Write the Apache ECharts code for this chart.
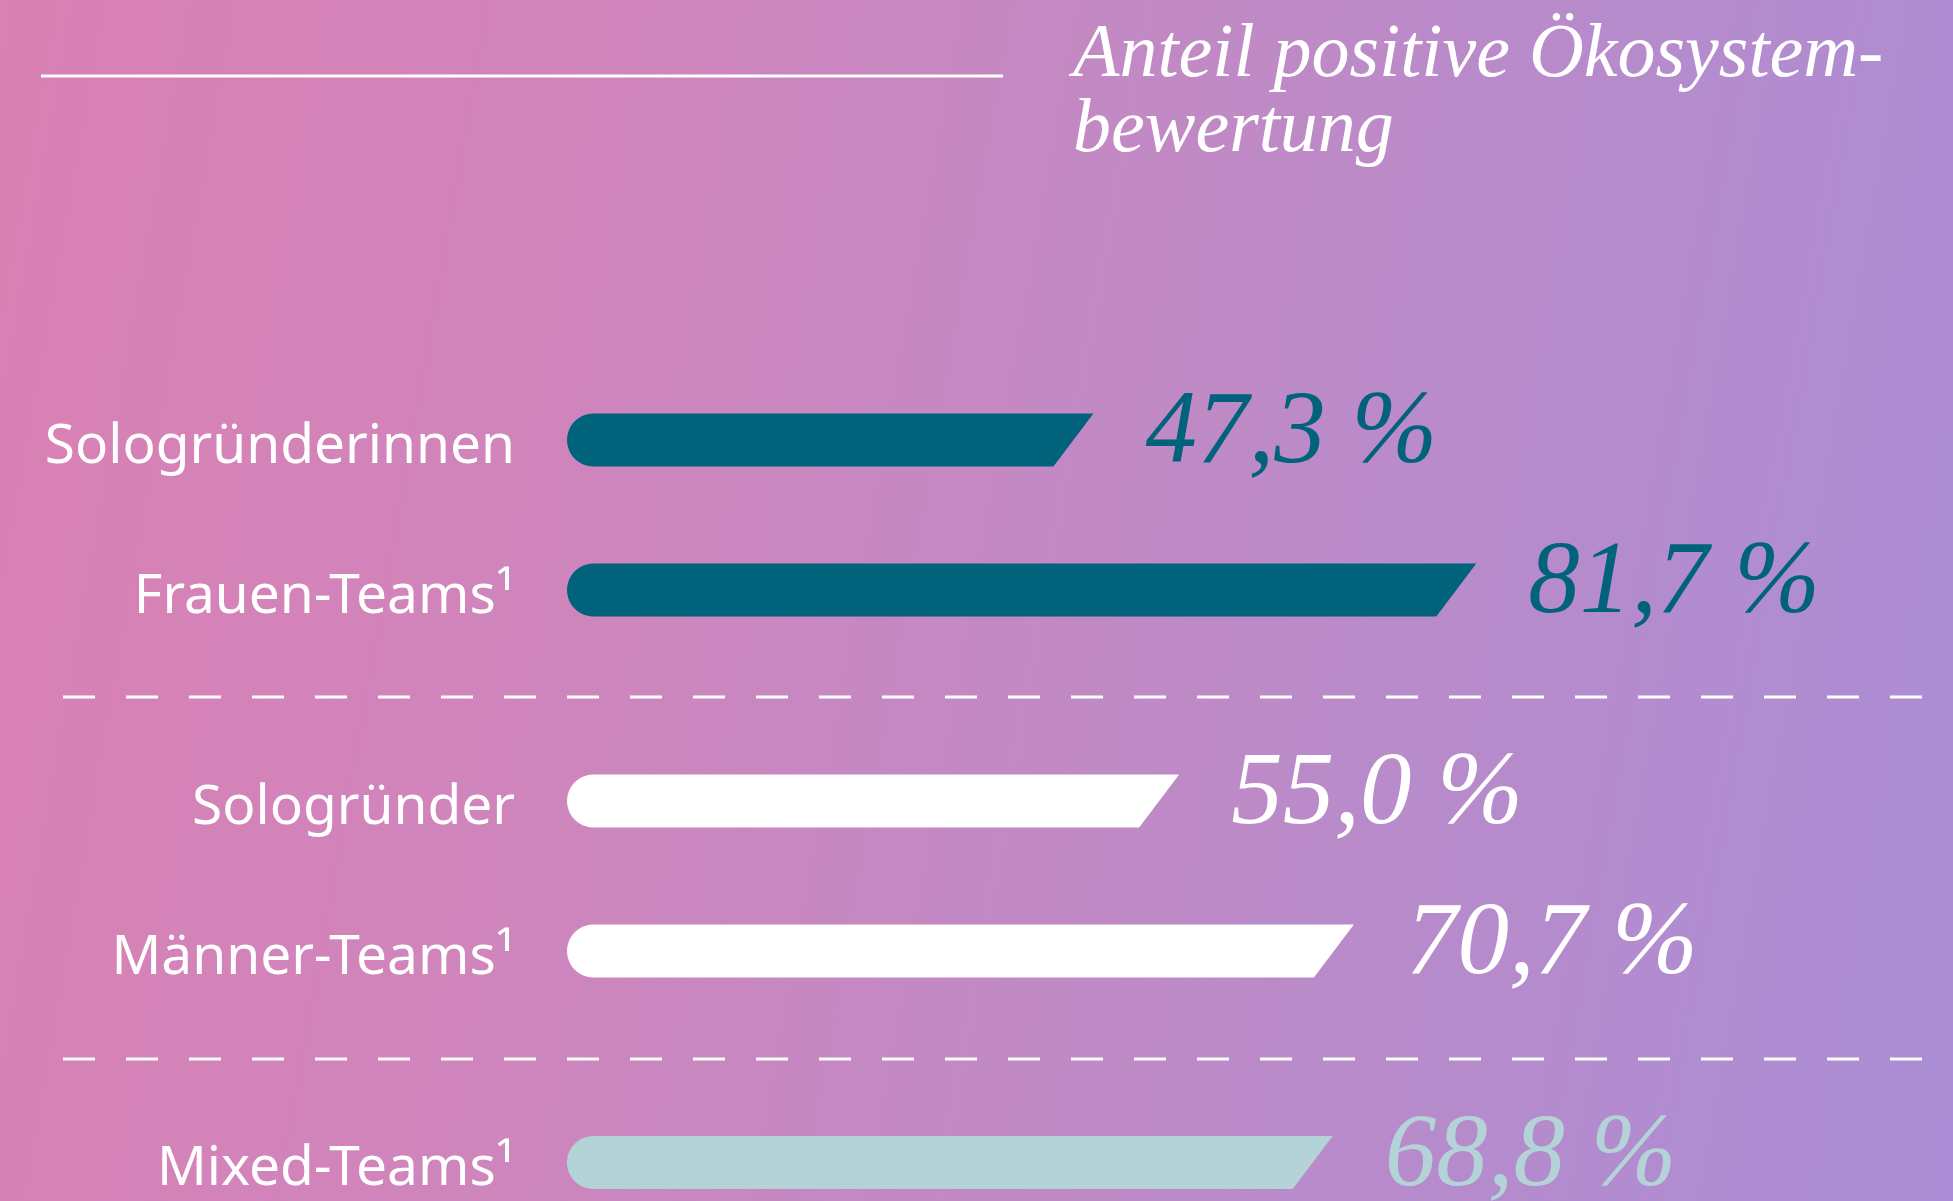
<!DOCTYPE html>
<html>
<head>
<meta charset="utf-8">
<script src="https://cdn.jsdelivr.net/npm/echarts@6/dist/echarts.min.js"></script>
<style>
  html, body { margin: 0; padding: 0; }
  body {
    width: 1953px; height: 1201px; overflow: hidden;
    background: linear-gradient(100deg, #da80b3 0%, #cf85bc 30%, #be8ac6 60%, #aa8dd5 100%);
  }
  #chart { width: 1953px; height: 1201px; }
</style>
</head>
<body>
<div id="chart"></div>
<script>
// Daten
var catWomen = ['Sologründerinnen', 'Frauen-Teams¹'];
var valWomen = [47.3, 81.7];
var catMen = ['Sologründer', 'Männer-Teams¹'];
var valMen = [55.0, 70.7];
var catMixed = ['Mixed-Teams¹'];
var valMixed = [68.8];

var colWomen = '#00637b';
var colMen = '#ffffff';
var colMixed = '#b3d3d7';

var barH = 53, slant = 40, labelGap = 52;

function fmt(v){
    return v.toFixed(1).replace('.', ',') + ' %';
}

function makeRender(color){
    return function(params, api){
        var cat = api.value(1);
        var start = api.coord([0, cat]);
        var end = api.coord([api.value(0), cat]);
        var cy = start[1];
        var r = barH / 2;
        var top = cy - r, bot = cy + r;
        var pts = [[end[0], top], [end[0] - slant, bot], [start[0] + r, bot]];
        // runde Kappe links
        for (var i = 1; i < 24; i++) {
            var a = Math.PI / 2 + Math.PI * i / 24;
            pts.push([start[0] + r + r * Math.cos(a), cy + r * Math.sin(a)]);
        }
        pts.push([start[0] + r, top]);
        return {
            type: 'group',
            children: [
                { type: 'polygon', shape: { points: pts }, style: { fill: color } },
                {
                    type: 'text', x: end[0] + labelGap, y: cy - 5,
                    style: {
                        text: fmt(api.value(0)), fill: color,
                        font: 'italic 103px "Liberation Serif"',
                        align: 'left', verticalAlign: 'middle'
                    }
                }
            ]
        };
    };
}

function toData(vals){
    return vals.map(function(v, i){ return [v, i]; });
}

var myChart = echarts.init(document.getElementById('chart'), null, { renderer: 'canvas' });

var grids = [
    { left: 567, right: 273, top: 365, height: 300 },
    { left: 567, right: 273, top: 726, height: 300 },
    { left: 567, right: 273, top: 1124, height: 77 }
];
var cats = [catWomen, catMen, catMixed];

option = {
    animation: false,
    backgroundColor: 'transparent',
    title: {
        text: 'Anteil positive Ökosystem-\nbewertung',
        left: 1068,
        top: 14,
        textStyle: {
            fontFamily: 'Liberation Serif',
            fontStyle: 'italic',
            fontWeight: 'normal',
            fontSize: 76,
            lineHeight: 75,
            color: '#ffffff'
        }
    },
    grid: grids,
    xAxis: grids.map(function(g, i){
        return { type: 'value', gridIndex: i, min: 0, max: 100, show: false };
    }),
    yAxis: cats.map(function(c, i){
        return {
            type: 'category', gridIndex: i, data: c, inverse: true,
            axisLine: { show: false }, axisTick: { show: false }, splitLine: { show: false },
            axisLabel: {
                margin: 52,
                formatter: function(v){ return '{t|' + v + '}'; },
                rich: {
                    t: { color: '#ffffff', fontFamily: 'Noto Sans', fontSize: 55, padding: [14, 0, 0, 0] }
                }
            }
        };
    }),
    series: [
        { type: 'custom', xAxisIndex: 0, yAxisIndex: 0, renderItem: makeRender(colWomen), data: toData(valWomen) },
        { type: 'custom', xAxisIndex: 1, yAxisIndex: 1, renderItem: makeRender(colMen), data: toData(valMen) },
        { type: 'custom', xAxisIndex: 2, yAxisIndex: 2, renderItem: makeRender(colMixed), data: toData(valMixed) }
    ],
    graphic: [
        { type: 'line', shape: { x1: 41, y1: 76, x2: 1003, y2: 76 }, style: { stroke: '#ffffff', lineWidth: 3 } },
        { type: 'line', shape: { x1: 63, y1: 697, x2: 1953, y2: 697 }, style: { stroke: '#ffffff', lineWidth: 3, lineDash: [32, 31] } },
        { type: 'line', shape: { x1: 63, y1: 1059, x2: 1953, y2: 1059 }, style: { stroke: '#ffffff', lineWidth: 3, lineDash: [32, 31] } }
    ]
};
myChart.setOption(option);
</script>
</body>
</html>
